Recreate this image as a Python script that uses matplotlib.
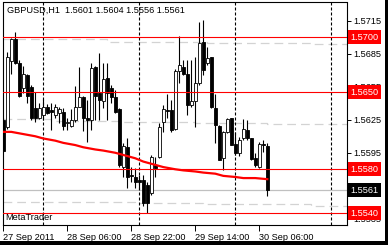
import matplotlib.pyplot as plt
import matplotlib.transforms as mtransforms
from matplotlib.patches import Rectangle

# GBPUSD H1, one bar per hour from 27 Sep 14:00
opens = [1.5625, 1.5618, 1.5678, 1.5698, 1.5677, 1.5654, 1.5666, 1.5655, 1.5636, 1.5627,
         1.5629, 1.5637, 1.5634, 1.5629, 1.5631, 1.5632, 1.5622, 1.5619, 1.5625, 1.5637,
         1.5646, 1.5627, 1.5625, 1.5673, 1.5649, 1.5642, 1.5663, 1.5654, 1.5646, 1.5635,
         1.5582, 1.5600, 1.5575, 1.5573, 1.5570, 1.5570, 1.5566, 1.5558, 1.5584, 1.5591,
         1.5623, 1.5634, 1.5634, 1.5617, 1.5669, 1.5673, 1.5667, 1.5638, 1.5642, 1.5658,
         1.5696, 1.5677, 1.5682, 1.5636, 1.5619, 1.5590, 1.5614, 1.5627, 1.5603, 1.5595,
         1.5608, 1.5616, 1.5608, 1.5590, 1.5582, 1.5603, 1.5601]
highs = [1.5627, 1.5687, 1.5699, 1.5705, 1.5679, 1.5674, 1.5667, 1.5657, 1.5650, 1.5640,
         1.5644, 1.5639, 1.5640, 1.5639, 1.5637, 1.5636, 1.5627, 1.5635, 1.5656, 1.5673,
         1.5647, 1.5643, 1.5677, 1.5674, 1.5686, 1.5677, 1.5677, 1.5657, 1.5652, 1.5636,
         1.5604, 1.5608, 1.5582, 1.5581, 1.5575, 1.5575, 1.5568, 1.5593, 1.5591, 1.5622,
         1.5638, 1.5648, 1.5643, 1.5671, 1.5701, 1.5679, 1.5679, 1.5679, 1.5682, 1.5714,
         1.5716, 1.5691, 1.5682, 1.5648, 1.5620, 1.5615, 1.5627, 1.5627, 1.5614, 1.5609,
         1.5626, 1.5625, 1.5608, 1.5595, 1.5605, 1.5607, 1.5604]
lows = [1.5596, 1.5617, 1.5667, 1.5676, 1.5646, 1.5649, 1.5640, 1.5625, 1.5623, 1.5626,
        1.5625, 1.5630, 1.5616, 1.5627, 1.5622, 1.5616, 1.5616, 1.5618, 1.5623, 1.5637,
        1.5615, 1.5605, 1.5616, 1.5625, 1.5625, 1.5636, 1.5625, 1.5640, 1.5631, 1.5582,
        1.5573, 1.5563, 1.5568, 1.5563, 1.5561, 1.5547, 1.5540, 1.5557, 1.5573, 1.5590,
        1.5614, 1.5627, 1.5614, 1.5616, 1.5658, 1.5666, 1.5629, 1.5637, 1.5618, 1.5657,
        1.5666, 1.5675, 1.5636, 1.5604, 1.5588, 1.5579, 1.5613, 1.5602, 1.5593, 1.5592,
        1.5607, 1.5607, 1.5588, 1.5582, 1.5581, 1.5596, 1.5556]
closes = [1.5597, 1.5682, 1.5698, 1.5677, 1.5647, 1.5667, 1.5647, 1.5627, 1.5627, 1.5636,
          1.5637, 1.5631, 1.5632, 1.5637, 1.5635, 1.5619, 1.5623, 1.5625, 1.5637, 1.5646,
          1.5627, 1.5625, 1.5672, 1.5647, 1.5643, 1.5662, 1.5649, 1.5646, 1.5632, 1.5584,
          1.5601, 1.5573, 1.5574, 1.5568, 1.5568, 1.5549, 1.5549, 1.5591, 1.5581, 1.5618,
          1.5635, 1.5633, 1.5616, 1.5669, 1.5675, 1.5667, 1.5638, 1.5642, 1.5658, 1.5695,
          1.5670, 1.5681, 1.5637, 1.5620, 1.5588, 1.5614, 1.5626, 1.5602, 1.5595, 1.5607,
          1.5617, 1.5608, 1.5589, 1.5584, 1.5603, 1.5602, 1.5561]

# moving average, read at a few bars
ma_bars = [0, 2, 5, 8, 10, 13, 15, 18, 20, 23, 25, 28, 30, 33, 35, 38, 40, 43, 45, 48,
           50, 53, 55, 58, 60, 63, 66]
ma_vals = [1.5614, 1.5614, 1.5612, 1.5610, 1.5608, 1.5606, 1.5604, 1.5602, 1.5600, 1.5598,
           1.5597, 1.5595, 1.5593, 1.5590, 1.5587, 1.5584, 1.5582, 1.5580, 1.5579, 1.5578,
           1.5577, 1.5576, 1.5574, 1.5573, 1.5572, 1.5572, 1.5571]

# light grey dashed channel lines (stepped)
upper_bars = [0, 26, 51, 77, 86]
upper_vals = [1.5698, 1.5696, 1.5695, 1.5694, 1.5694]
mid_bars = [0, 12, 30, 48, 66, 86]
mid_vals = [1.5626, 1.5624, 1.5623, 1.5622, 1.5621, 1.5621]
lower_bars = [0, 33, 50, 77, 86]
lower_vals = [1.5550, 1.5549, 1.5548, 1.5547, 1.5547]

levels = [1.5700, 1.5650, 1.5580, 1.5540]
bid = 1.5561
separators = [10, 34, 58, 82]
ytick_vals = [1.5715, 1.5685, 1.5655, 1.5625, 1.5595, 1.5565, 1.5535]
xtick_bars = [0, 16, 32, 48, 64]
xtick_labels = ['27 Sep 2011', '28 Sep 06:00', '28 Sep 22:00', '29 Sep 14:00', '30 Sep 06:00']

plt.rcParams['font.family'] = ['Liberation Sans', 'DejaVu Sans']
fs = 6.6

W, H = 388, 245
fig = plt.figure(figsize=(W / 100, H / 100), dpi=100)
ax = fig.add_axes([2.5 / W, (H - 224.5) / H, (346.5 - 2.5) / W, (224.5 - 2.5) / H])
ax.set_xlim(-0.2, 85.8)
ax.set_ylim(1.55298, 1.57316)

# channel lines and day separators
for bx, bv in [(upper_bars, upper_vals), (mid_bars, mid_vals), (lower_bars, lower_vals)]:
    ax.step(bx, bv, where='post', color='#d3d3d3', lw=0.9, dashes=(7, 4), zorder=1)
for s in separators:
    ax.axvline(s, color='black', lw=0.8, dashes=(2.7, 1.8), zorder=1)
ax.axhline(bid, color='#c0c0c0', lw=0.9, zorder=1)

# candles
for i in range(len(opens)):
    o, h, l, c = opens[i], highs[i], lows[i], closes[i]
    ax.vlines(i, l, h, color='black', lw=0.8, zorder=3)
    bottom = min(o, c)
    height = max(abs(c - o), 0.00004)
    face = 'white' if c >= o else 'black'
    ax.add_patch(Rectangle((i - 0.35, bottom), 0.7, height, facecolor=face,
                           edgecolor='black', lw=0.6, zorder=4))

ax.plot(ma_bars, ma_vals, color='red', lw=1.6, zorder=5)
for lv in levels:
    ax.axhline(lv, color='red', lw=0.8, zorder=6)

# axes styling
for sp in ax.spines.values():
    sp.set_linewidth(0.8)
ax.yaxis.tick_right()
ax.set_yticks(ytick_vals)
ax.set_yticklabels([f'{v:.4f}' for v in ytick_vals], fontsize=fs)
ax.tick_params(axis='y', length=3, width=0.7, pad=2)
ax.set_xticks(xtick_bars)
ax.set_xticklabels(xtick_labels, fontsize=fs, ha='left')
ax.tick_params(axis='x', length=4, width=0.7, pad=2)

# right-side price boxes
trans = mtransforms.blended_transform_factory(ax.transAxes, ax.transData)
for lv in levels:
    ax.text(1.012, lv, f'{lv:.4f}', transform=trans, fontsize=fs, color='white',
            va='center', ha='left', zorder=10, clip_on=False,
            bbox=dict(boxstyle='square,pad=0.28', facecolor='red', edgecolor='none'))
ax.text(1.012, bid, f'{bid:.4f}', transform=trans, fontsize=fs, color='white',
        va='center', ha='left', zorder=10, clip_on=False,
        bbox=dict(boxstyle='square,pad=0.28', facecolor='black', edgecolor='none'))

ax.text(0.012, 0.985, 'GBPUSD,H1  1.5601 1.5604 1.5556 1.5561', transform=ax.transAxes,
        fontsize=fs, va='top', ha='left')
ax.text(0.008, 0.01, 'MetaTrader', transform=ax.transAxes, fontsize=fs, va='bottom', ha='left')

# screenshot shadow on right and bottom edges
fig.patches.append(Rectangle((385 / W, 0), 3 / W, 1, transform=fig.transFigure,
                             facecolor='black', edgecolor='none'))
fig.patches.append(Rectangle((0, 0), 1, 4 / H, transform=fig.transFigure,
                             facecolor='black', edgecolor='none'))

fig.savefig('out.png', dpi=100)
